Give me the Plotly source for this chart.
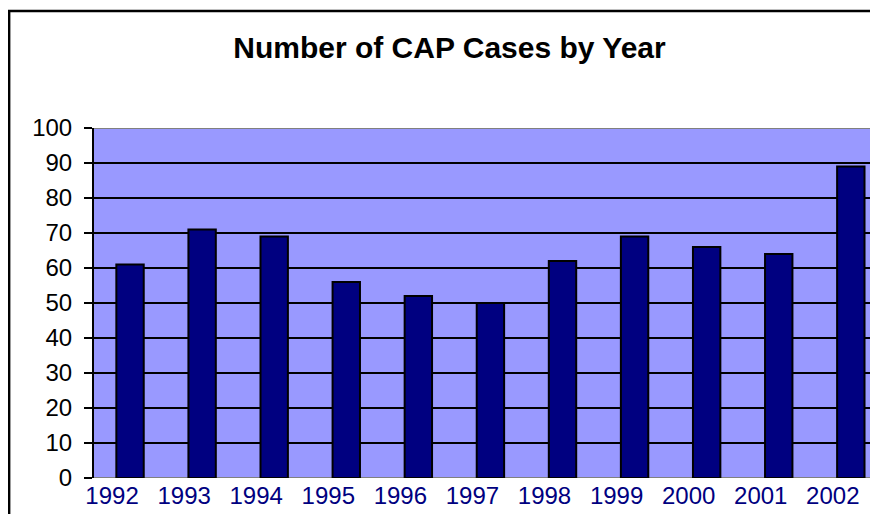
import plotly.graph_objects as go

years = ["1992", "1993", "1994", "1995", "1996", "1997", "1998", "1999", "2000", "2001", "2002"]
cases = [61, 71, 69, 56, 52, 50, 62, 69, 66, 64, 89]
y_ticks = [0, 10, 20, 30, 40, 50, 60, 70, 80, 90, 100]

# page body has an 8px default margin, so the figure is shifted by 8px
OFF = 8
W, H = 878, 514 - OFF
L, R, T, B = 94 - OFF, 0, 128 - OFF, 514 - 478
pw, ph = W - L - R, H - T - B

fig = go.Figure()
fig.add_trace(go.Bar(
    x=years, y=cases, width=0.38,
    marker=dict(color="#000080", line=dict(color="black", width=2)),
))

# frame (figure border)
fx = (8 - OFF - L) / pw
fy = (H - B - (10 - OFF)) / ph
fig.add_shape(type="rect", xref="paper", yref="paper", x0=fx + 0.0015, x1=1.3, y0=-0.5, y1=fy - 0.003,
              line=dict(color="black", width=2.4), layer="above")
# gray plot-area edges
for v in (0, 100):
    fig.add_shape(type="line", xref="paper", yref="y", x0=0, x1=1, y0=v, y1=v,
                  line=dict(color="#808080", width=1.8), layer="between")

fig.update_layout(
    width=W, height=H, autosize=False,
    margin=dict(l=L, r=R, t=T, b=B, pad=0),
    paper_bgcolor="white", plot_bgcolor="#9999FF",
    showlegend=False,
    title=dict(text="<b>Number of CAP Cases by Year</b>", xref="container", yref="container",
               x=(449.5 - OFF) / W, y=1 - (47 - OFF) / H, xanchor="center", yanchor="middle",
               font=dict(family="Arial", size=30, color="black")),
    xaxis=dict(type="category", range=[-0.5, (878 + OFF - 129.8) / 72.1], showgrid=False,
               showline=False, zeroline=False, ticks="",
               tickfont=dict(family="Arial", size=24, color="#000080"),
               ticklabelshift=-18, ticklabelstandoff=1),
    yaxis=dict(range=[0, 100], tickvals=y_ticks, showgrid=True, gridcolor="black", gridwidth=1.6,
               zeroline=False, showline=True, linecolor="black", linewidth=2,
               ticks="outside", ticklen=8, tickwidth=2, tickcolor="black",
               tickfont=dict(family="Arial", size=24, color="black"),
               ticklabelstandoff=7),
)

fig.write_html("out.html")
